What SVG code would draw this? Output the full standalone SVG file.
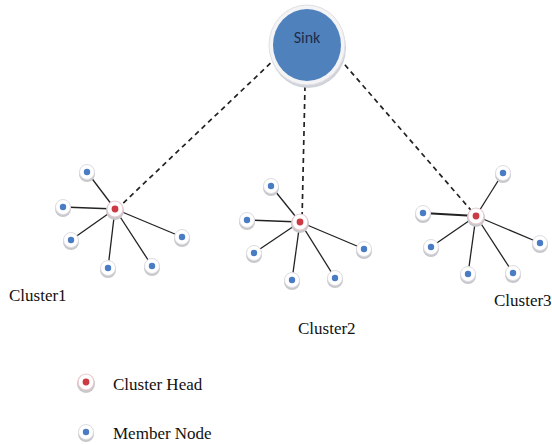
<svg xmlns="http://www.w3.org/2000/svg" width="552" height="445" viewBox="0 0 552 445">
<defs>
<style>
.solid{stroke:#222;stroke-width:1.3;fill:none}
.dash{stroke:#222;stroke-width:1.7;stroke-dasharray:5,4;fill:none}
.sh{fill:#c8c8cc}
.ring{fill:#fff;stroke:#dcdce2;stroke-width:1}
.hring{fill:#fff;stroke:#e8c8cc;stroke-width:1.2}
.m{fill:#4a7cc4}
.h{fill:#cc3a44}
.lbl{font-family:"Liberation Serif","Times New Roman",serif;font-size:17px;fill:#111}
</style>
<g id="mnode"><ellipse class="sh" cx="0" cy="2" rx="8" ry="8"/><circle class="ring" r="7.5"/><circle class="m" r="3.2"/></g>
<g id="hnode"><ellipse class="sh" cx="0" cy="2" rx="9" ry="9"/><circle class="hring" r="8"/><circle class="h" r="3.4"/></g>
</defs>
<rect width="552" height="445" fill="#fff"/>
<g id="connectors">
<line class="dash" x1="277" y1="57" x2="117" y2="209"/>
<line class="dash" x1="305" y1="86" x2="302" y2="221"/>
<line class="dash" x1="339" y1="58" x2="476" y2="216"/>
<line class="solid" x1="115" y1="209" x2="87" y2="172"/>
<line class="solid" x1="115" y1="209" x2="63" y2="207"/>
<line class="solid" x1="115" y1="209" x2="71" y2="240"/>
<line class="solid" x1="115" y1="209" x2="108" y2="268"/>
<line class="solid" x1="115" y1="209" x2="152" y2="266"/>
<line class="solid" x1="115" y1="209" x2="182" y2="237"/>
<line class="solid" x1="300" y1="222" x2="271" y2="186"/>
<line class="solid" x1="300" y1="222" x2="247" y2="220"/>
<line class="solid" x1="300" y1="222" x2="254" y2="253"/>
<line class="solid" x1="300" y1="222" x2="292" y2="280"/>
<line class="solid" x1="300" y1="222" x2="335" y2="278"/>
<line class="solid" x1="300" y1="222" x2="364" y2="249"/>
<line class="solid" x1="476" y1="216" x2="503" y2="173"/>
<line class="solid" x1="476" y1="216" x2="423" y2="213" style="stroke-width:1.8"/>
<line class="solid" x1="476" y1="216" x2="431" y2="247"/>
<line class="solid" x1="476" y1="216" x2="468" y2="274"/>
<line class="solid" x1="476" y1="216" x2="513" y2="273"/>
<line class="solid" x1="476" y1="216" x2="540" y2="243"/>
</g>
<g id="sink">
<ellipse cx="308" cy="48" rx="38" ry="40" fill="#d0d3da"/>
<ellipse cx="307" cy="45" rx="38" ry="40" fill="#f4f4f6" stroke="#e0e0e4"/>
<ellipse cx="307" cy="45" rx="34" ry="36" fill="#4f81bd"/>
<text x="307" y="43" text-anchor="middle" font-family="Carlito,'Liberation Sans',sans-serif" font-size="16" fill="#1f2d4a">Sink</text>
</g>
<g id="cluster1">
<use href="#mnode" x="87" y="172"/><use href="#mnode" x="63" y="207"/><use href="#mnode" x="71" y="240"/>
<use href="#mnode" x="108" y="268"/><use href="#mnode" x="152" y="266"/><use href="#mnode" x="182" y="237"/>
<use href="#hnode" x="115" y="209"/>
<text class="lbl" x="9" y="301">Cluster1</text>
</g>
<g id="cluster2">
<use href="#mnode" x="271" y="186"/><use href="#mnode" x="247" y="220"/><use href="#mnode" x="254" y="253"/>
<use href="#mnode" x="292" y="280"/><use href="#mnode" x="335" y="278"/><use href="#mnode" x="364" y="249"/>
<use href="#hnode" x="300" y="222"/>
<text class="lbl" x="298" y="334">Cluster2</text>
</g>
<g id="cluster3">
<use href="#mnode" x="503" y="173"/><use href="#mnode" x="423" y="213"/><use href="#mnode" x="431" y="247"/>
<use href="#mnode" x="468" y="274"/><use href="#mnode" x="513" y="273"/><use href="#mnode" x="540" y="243"/>
<use href="#hnode" x="476" y="216"/>
<text class="lbl" x="494" y="306">Cluster3</text>
</g>
<g id="legend">
<use href="#hnode" x="86" y="382"/>
<text class="lbl" x="113" y="390">Cluster Head</text>
<use href="#mnode" x="86" y="432"/>
<text class="lbl" x="113" y="439">Member Node</text>
</g>
</svg>
